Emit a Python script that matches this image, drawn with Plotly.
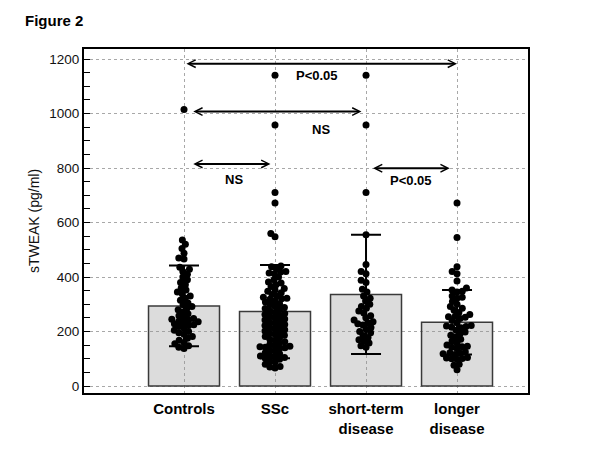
import numpy as np
import plotly.graph_objects as go

# ---------------- data ----------------
groups = ["Controls", "SSc", "short-term<br>disease", "longer<br>disease"]
means = [294, 273, 336, 234]
sds = [148, 171, 219, 118]

controls = [1015, 536, 520, 505, 487, 470, 466, 436, 428, 420, 410, 400, 390,
            380, 372, 360, 352, 345, 338, 330, 322, 315, 305, 298, 292, 285,
            280, 272, 265, 258, 252, 248, 245, 242, 238, 236, 232, 228, 225,
            222, 218, 212, 205, 200, 195, 190, 182, 175, 168, 160, 155, 148,
            142, 138]
ssc = [1140, 958, 710, 672, 560, 548, 440, 438, 430, 420, 418, 415, 412, 400,
       390, 382, 378, 372, 365, 358, 352, 348, 342, 336, 330, 326, 322, 320,
       318, 312, 308, 302, 298, 292, 288, 284, 280, 275, 270, 266, 262, 258,
       254, 250, 246, 242, 238, 234, 230, 226, 222, 218, 214, 210, 206, 202,
       198, 194, 190, 186, 182, 178, 172, 168, 162, 158, 152, 148, 146, 144,
       142, 140, 138, 132, 128, 122, 118, 112, 110, 108, 105, 102, 98, 92, 88,
       80, 72, 70, 66]
short_term = [1140, 958, 710, 555, 446, 420, 412, 388, 380, 355, 345, 330, 322,
              312, 300, 292, 285, 275, 268, 258, 250, 242, 236, 232, 228, 224,
              215, 208, 200, 195, 185, 178, 170, 165, 158, 148, 142]
longer = [672, 545, 438, 420, 412, 385, 360, 352, 348, 345, 330, 326, 322, 310,
          300, 292, 285, 278, 270, 262, 256, 254, 252, 248, 240, 232, 222, 220,
          218, 216, 214, 205, 198, 192, 186, 180, 172, 165, 158, 150, 146, 144,
          142, 138, 125, 122, 120, 118, 116, 105, 103, 101, 100, 98, 80, 76, 60]
group_values = [controls, ssc, short_term, longer]

# comparisons: (from group, to group, label)
comparisons = [(0, 3, "P<0.05"), (0, 2, "NS"), (0, 1, "NS"), (2, 3, "P<0.05")]

# ---------------- layout constants ----------------
W, H = 600, 450
ML, MR, MT, MB = 76, 80, 41, 65
Y0, Y1 = -25.7, 1236.7
X0, X1 = -1.099, 3.78
PX_PER_Y = (H - MT - MB) / (Y1 - Y0)
PX_PER_X = (W - ML - MR) / (X1 - X0)
DOT = 7
FONT = "Arial, Liberation Sans, sans-serif"


def swarm(values, diam):
    """Beeswarm x-offsets (in px) computed from the values."""
    order = np.argsort(values)
    ys = np.asarray(values, float) * PX_PER_Y
    placed = []
    offs = np.zeros(len(values))
    for i in order:
        y = ys[i]
        cands = [0.0]
        near = [(px, py) for px, py in placed if abs(py - y) < diam]
        for px, py in near:
            d = np.sqrt(max(diam ** 2 - (py - y) ** 2, 0))
            cands += [px + d + 0.01, px - d - 0.01]
        cands.sort(key=lambda c: (abs(c), c))
        for c in cands:
            if all((c - px) ** 2 + (y - py) ** 2 >= diam ** 2 - 1e-6 for px, py in near):
                offs[i] = c
                break
        placed.append((offs[i], y))
    return offs


fig = go.Figure()

fig.add_trace(go.Bar(
    x=list(range(len(groups))), y=means, width=0.78,
    marker=dict(color="rgba(150,150,150,0.33)",
                line=dict(color="#3a3a3a", width=1.5)),
    hoverinfo="skip", showlegend=False))

for gi, vals in enumerate(group_values):
    offs = swarm(vals, 5.3) / PX_PER_X
    fig.add_trace(go.Scatter(
        x=gi + offs, y=vals, mode="markers",
        marker=dict(color="black", size=DOT, line=dict(width=0)),
        hoverinfo="skip", showlegend=False))

fig.add_trace(go.Scatter(
    x=list(range(len(groups))), y=means, mode="markers",
    marker=dict(size=1, color="rgba(0,0,0,0)"),
    error_y=dict(type="data", array=sds, visible=True, color="black",
                 thickness=2, width=15),
    hoverinfo="skip", showlegend=False))

arrow_levels = [1183, 1007, 815, 799]
arrow_ends = [(0.01, 3.0), (0.085, 1.95), (0.085, 0.95), (2.06, 2.92)]
label_pos = [(1.46, 1138), (1.50, 943), (0.55, 758), (2.49, 753)]
annotations = []
for (a, b, lab), lev, (xa, xb), (lx, ly) in zip(comparisons, arrow_levels, arrow_ends, label_pos):
    annotations.append(dict(
        x=xb, y=lev, ax=xa, ay=lev, xref="x", yref="y", axref="x", ayref="y",
        text="", showarrow=True, arrowhead=5, startarrowhead=5,
        arrowside="end+start", arrowsize=0.75, startarrowsize=0.75,
        arrowwidth=2, arrowcolor="black", standoff=0, startstandoff=0))
    annotations.append(dict(
        x=lx, y=ly, xref="x", yref="y", text="<b>%s</b>" % lab,
        showarrow=False, font=dict(family=FONT, size=13, color="black")))

annotations.append(dict(
    x=(15 - ML) / (W - ML - MR), y=1 + (MT - 12) / (H - MT - MB),
    xref="paper", yref="paper", text="<b>Figure 2</b>",
    showarrow=False, xanchor="left", yanchor="middle",
    font=dict(family=FONT, size=15, color="black")))

fig.update_layout(
    width=W, height=H, margin=dict(l=ML, r=MR, t=MT, b=MB),
    plot_bgcolor="white", paper_bgcolor="white",
    annotations=annotations, showlegend=False,
    font=dict(family=FONT, color="black"),
    xaxis=dict(range=[X0, X1], tickvals=list(range(len(groups))), ticktext=["<b>%s</b>" % g for g in groups],
               tickfont=dict(family=FONT, size=15, color="black"), ticks="",
               showgrid=True, gridcolor="#a8a8a8", griddash="dot", gridwidth=1,
               showline=True, linecolor="black", linewidth=2, mirror=True,
               zeroline=False, ticklabelstandoff=1),
    yaxis=dict(range=[Y0, Y1], tickvals=[0, 200, 400, 600, 800, 1000, 1200],
               tickfont=dict(family=FONT, size=13.5, color="#111"),
               ticks="inside", ticklen=6, tickwidth=1, tickcolor="black",
               minor=dict(dtick=50, tick0=0, ticks="inside", ticklen=6, tickcolor="black", showgrid=False),
               showgrid=True, gridcolor="#a8a8a8", griddash="dot", gridwidth=1,
               showline=True, linecolor="black", linewidth=2, mirror=True,
               zeroline=False,
               title=dict(text="sTWEAK (pg/ml)", font=dict(family=FONT, size=14, color="#111"), standoff=6)),
)

fig.write_html("out.html")
